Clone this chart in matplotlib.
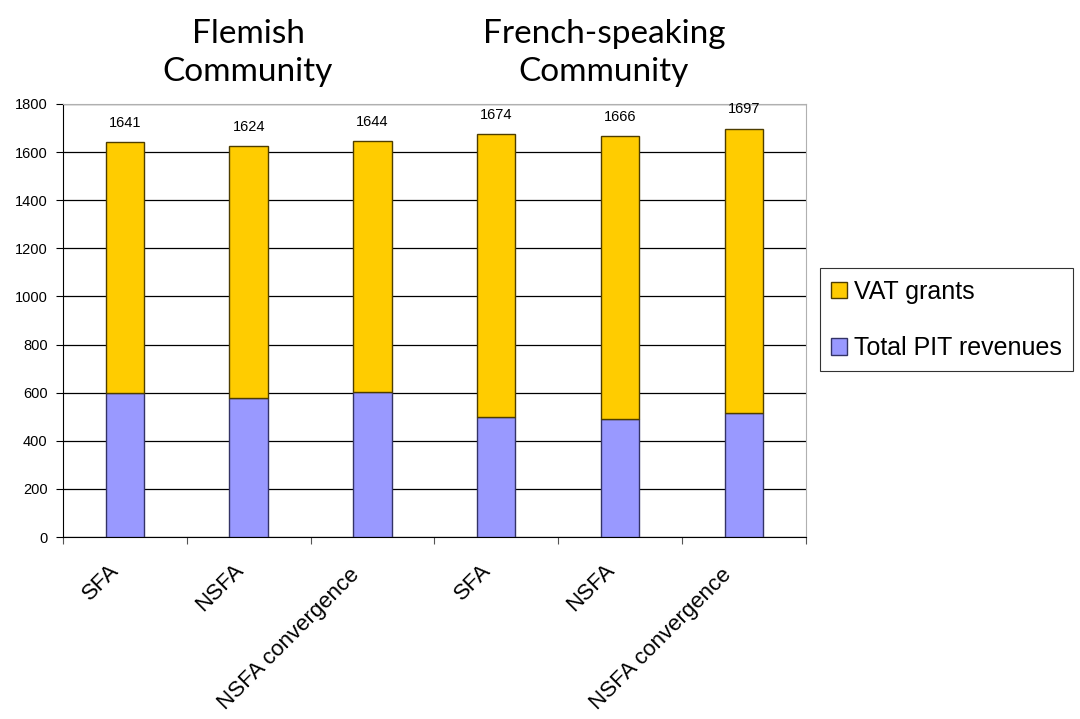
import matplotlib.pyplot as plt
import matplotlib.transforms as mtransforms
import numpy as np

# Data
categories = ['SFA', 'NSFA', 'NSFA convergence', 'SFA', 'NSFA', 'NSFA convergence']
pit = [600, 578, 601, 497, 489, 517]
totals = [1641, 1624, 1644, 1674, 1666, 1697]
vat = [t - p for t, p in zip(totals, pit)]
groups = ['Flemish\nCommunity', 'French-speaking\nCommunity']

plt.rcParams['font.family'] = ['Liberation Sans', 'DejaVu Sans']

fig = plt.figure(figsize=(10.8, 7.19), dpi=100)
ax = fig.add_axes([0.0583, 0.2531, 0.6877, 0.6023])

x = np.arange(len(categories))
w = 0.31
ax.bar(x, pit, w, color='#9999FF', edgecolor='#333366', linewidth=1,
       label='Total PIT revenues', zorder=3)
ax.bar(x, vat, w, bottom=pit, color='#FFCC00', edgecolor='#4d3d00', linewidth=1,
       label='VAT grants', zorder=3)

# total labels above bars
for xi, t in zip(x, totals):
    ax.annotate(str(t), (xi, t), xytext=(0, 9), textcoords='offset points',
                ha='center', va='bottom', fontsize=10.5)

ax.set_xlim(-0.5, len(categories) - 0.5)
ax.set_ylim(0, 1800)
ax.set_yticks(np.arange(0, 1801, 200))
ax.yaxis.grid(True, color='black', linewidth=0.9, zorder=0)
ax.set_axisbelow(True)

# ticks at category boundaries, labels at centres
ax.set_xticks(np.arange(-0.5, len(categories), 1.0))
ax.set_xticklabels([])
ax.set_xticks(x, minor=True)
ax.set_xticklabels(categories, minor=True, rotation=45, ha='right',
                   rotation_mode='anchor', fontsize=16)
ax.tick_params(axis='x', which='minor', length=0, pad=20)
ax.tick_params(axis='x', which='major', length=5, direction='out', color='#555555')
ax.tick_params(axis='y', length=5, direction='out', labelsize=10.5, pad=6)
for lab in ax.get_xticklabels(minor=True):
    dx, dy = -16, 5
    if len(lab.get_text()) > 6:
        dx, dy = -23, 0
    shift = mtransforms.ScaledTranslation(dx / 100, dy / 100, fig.dpi_scale_trans)
    lab.set_transform(lab.get_transform() + shift)

for s in ['top', 'right']:
    ax.spines[s].set_color('#b0b0b0')
for s in ['left', 'bottom']:
    ax.spines[s].set_color('black')

# group titles
for gx, g in zip([248, 604], groups):
    fig.text(gx / 1080, 1 - 53 / 719, g, ha='center', va='center',
             fontsize=24, family=['Lato', 'DejaVu Sans'], linespacing=1.3)

handles, labels = ax.get_legend_handles_labels()
leg = fig.legend(handles[::-1], labels[::-1], loc='center left',
                 bbox_to_anchor=(0.7593, 0.555), fontsize=18, frameon=True,
                 fancybox=False, edgecolor='black', handlelength=0.64,
                 handleheight=0.64, handletextpad=0.25, labelspacing=1.3,
                 borderpad=0.45, borderaxespad=0)
leg.get_frame().set_linewidth(0.8)

fig.savefig('out.png', dpi=100)
